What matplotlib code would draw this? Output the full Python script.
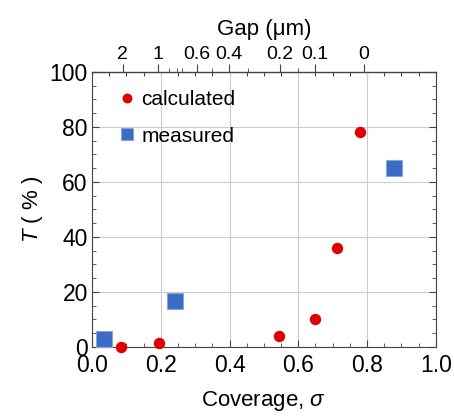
import numpy as np
import matplotlib.pyplot as plt
from matplotlib.ticker import MultipleLocator

plt.rcParams['font.family'] = ['Liberation Sans', 'DejaVu Sans']
plt.rcParams['mathtext.fontset'] = 'custom'
plt.rcParams['mathtext.it'] = 'Liberation Sans:italic'

# calculated transmission
calc_cov = [0.084, 0.195, 0.544, 0.648, 0.712, 0.779]
calc_T = [0.0, 1.5, 4.1, 10.3, 36.0, 78.0]

# measured transmission
meas_cov = [0.035, 0.241, 0.878]
meas_T = [2.9, 16.8, 65.2]

# top axis: gap values and where they sit on the coverage scale
gap_labels = ['2', '1', '0.6', '0.4', '0.2', '0.1', '0']
gap_pos = [0.090, 0.192, 0.305, 0.398, 0.547, 0.648, 0.791]
gap_minor_pos = [0.224, 0.247, 0.262, 0.349, 0.453, 0.599]

fig = plt.figure(figsize=(4.54, 4.16), dpi=100)
ax = fig.add_axes([0.2026, 0.1659, 0.7574, 0.6611])

ax.plot(calc_cov, calc_T, 'o', color='#e00000', ms=7.2, mec='#e00000',
        label='calculated', clip_on=False, zorder=3)
ax.plot(meas_cov, meas_T, 's', color='#3b6cc4', ms=11, mec='#8aa6d8', mew=0.8,
        label='measured', clip_on=False, zorder=3)

ax.set_xlim(0, 1)
ax.set_ylim(0, 100)
ax.xaxis.set_major_locator(MultipleLocator(0.2))
ax.xaxis.set_minor_locator(MultipleLocator(0.05))
ax.yaxis.set_major_locator(MultipleLocator(20))
ax.yaxis.set_minor_locator(MultipleLocator(5))
ax.set_xticklabels([f'{v:.1f}' for v in ax.get_xticks()])
ax.grid(True, color='#cccccc', lw=0.8)
ax.tick_params(which='both', direction='in', top=True, right=True,
               colors='#444444', labelcolor='black', labelsize=16.5)
ax.tick_params(which='major', length=5)
ax.tick_params(which='minor', length=3)
ax.tick_params(axis='x', which='both', top=False, pad=5)
ax.tick_params(axis='y', pad=3)
for s in ax.spines.values():
    s.set_color('#444444')

ax.set_xlabel(r'Coverage, $\mathit{\sigma}$', fontsize=16, labelpad=9)
ax.set_ylabel(r'$\mathit{T}$ ( % )', fontsize=16, labelpad=3)

# inward minor ticks on top frame
top_in = ax.secondary_xaxis('top')
top_in.set_xticks(np.arange(0, 1.001, 0.05))
top_in.tick_params(direction='in', length=3, colors='#444444', labeltop=False)
top_in.set_xticklabels([])

# gap axis on top
gap_ax = ax.secondary_xaxis('top')
gap_ax.set_xticks(gap_pos)
gap_ax.set_xticklabels(gap_labels)
gap_ax.set_xticks(gap_minor_pos, minor=True)
gap_ax.tick_params(which='major', direction='out', length=6, pad=0.5,
                   labelsize=14, colors='#444444', labelcolor='black')
gap_ax.tick_params(which='minor', direction='out', length=3, colors='#444444')
gap_ax.set_xlabel('Gap (\u03bcm)', fontsize=16, labelpad=8)

ax.legend(loc='upper left', bbox_to_anchor=(0.035, 0.98), frameon=False,
          fontsize=15, handletextpad=0.2, borderaxespad=0.2,
          labelspacing=0.85, handlelength=1.0, markerscale=0.85)

fig.savefig('out.png', dpi=100)
